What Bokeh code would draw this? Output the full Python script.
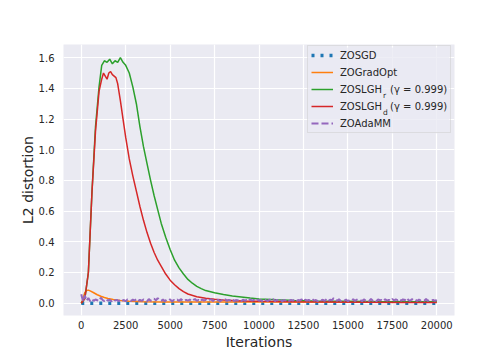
from bokeh.plotting import figure
from bokeh.models import (Range1d, FixedTicker, NumeralTickFormatter, Legend, LegendItem,
                          Label, BoxAnnotation)
from bokeh.embed import file_html
from bokeh.resources import INLINE

# ---------------- data ----------------
x_ticks = [0, 2500, 5000, 7500, 10000, 12500, 15000, 17500, 20000]
y_ticks = [0.0, 0.2, 0.4, 0.6, 0.8, 1.0, 1.2, 1.4, 1.6]

sgd_x = [0, 20000]
sgd_y = [0.0, 0.0]

gradopt_x = [0, 100, 200, 300, 400, 500, 700, 900, 1100, 1300, 1500, 1800, 2200,
             2700, 3500, 4500, 6000, 8000, 12000, 20000]
gradopt_y = [0.0, 0.03, 0.07, 0.082, 0.085, 0.08, 0.068, 0.055, 0.045, 0.037, 0.03,
             0.024, 0.018, 0.013, 0.010, 0.008, 0.007, 0.007, 0.007, 0.007]

slghr_x = [0, 200, 400, 600, 800, 1000, 1150, 1300, 1450, 1600, 1750, 1900, 2050,
           2200, 2350, 2500, 2700, 2900, 3100, 3300, 3500, 3700, 3900, 4100, 4300,
           4500, 4750, 5000, 5250, 5500, 5750, 6000, 6250, 6500, 6750, 7000, 7500,
           8000, 8500, 9000, 9500, 10000, 11000, 12000, 13000, 14000, 15000, 16000,
           17000, 18000, 19000, 20000]
slghr_y = [0.0, 0.03, 0.20, 0.72, 1.15, 1.41, 1.55, 1.58, 1.57, 1.59, 1.56, 1.58, 1.57,
           1.60, 1.57, 1.55, 1.50, 1.41, 1.30, 1.15, 1.02, 0.91, 0.80, 0.70, 0.61,
           0.52, 0.43, 0.35, 0.28, 0.23, 0.19, 0.155, 0.13, 0.11, 0.095, 0.082, 0.068,
           0.056, 0.047, 0.040, 0.033, 0.027, 0.022, 0.018, 0.015, 0.013, 0.012, 0.011,
           0.010, 0.010, 0.009, 0.009]

slghd_x = [0, 200, 400, 600, 800, 1000, 1150, 1250, 1350, 1450, 1550, 1650, 1750,
           1850, 1950, 2050, 2200, 2350, 2500, 2700, 2900, 3100, 3300, 3500, 3700,
           3900, 4100, 4300, 4500, 4750, 5000, 5250, 5500, 5750, 6000, 6500, 7000,
           7500, 8000, 9000, 10000, 12000, 14000, 16000, 18000, 20000]
slghd_y = [0.0, 0.03, 0.20, 0.72, 1.12, 1.38, 1.46, 1.50, 1.48, 1.46, 1.50, 1.51, 1.49,
           1.48, 1.47, 1.43, 1.32, 1.20, 1.08, 0.94, 0.83, 0.73, 0.63, 0.54, 0.46,
           0.39, 0.33, 0.28, 0.24, 0.19, 0.15, 0.12, 0.095, 0.075, 0.06, 0.042, 0.032,
           0.025, 0.02, 0.015, 0.012, 0.009, 0.007, 0.006, 0.005, 0.004]

adamm_x = list(range(0, 20001, 100))
adamm_y = [
    0.058, 0.010, 0.050, 0.016, 0.034, 0.013, 0.027, 0.015, 0.024, 0.019,
    0.014, 0.036, 0.021, 0.013, 0.025, 0.016, 0.023, 0.012, 0.026, 0.017,
    0.022, 0.013, 0.024, 0.016, 0.021, 0.012, 0.025, 0.018, 0.014, 0.023,
    0.017, 0.026, 0.013, 0.022, 0.015, 0.024, 0.019, 0.012, 0.027, 0.016,
    0.021, 0.030, 0.018, 0.033, 0.020, 0.015, 0.024, 0.013, 0.022, 0.017,
    0.025, 0.012, 0.021, 0.016, 0.023, 0.014, 0.026, 0.018, 0.013, 0.022,
    0.016, 0.024, 0.013, 0.021, 0.027, 0.015, 0.022, 0.012, 0.025, 0.017,
    0.023, 0.014, 0.020, 0.026, 0.013, 0.024, 0.016, 0.022, 0.012, 0.021,
    0.017, 0.025, 0.014, 0.022, 0.016, 0.027, 0.013, 0.021, 0.018, 0.024,
    0.012, 0.023, 0.016, 0.021, 0.014, 0.026, 0.017, 0.022, 0.013, 0.024,
    0.016, 0.021, 0.012, 0.025, 0.018, 0.014, 0.023, 0.016, 0.027, 0.013,
    0.022, 0.015, 0.024, 0.012, 0.021, 0.017, 0.026, 0.014, 0.022, 0.016,
    0.024, 0.013, 0.021, 0.018, 0.025, 0.012, 0.023, 0.016, 0.022, 0.014,
    0.026, 0.017, 0.021, 0.013, 0.024, 0.018, 0.022, 0.015, 0.027, 0.013,
    0.023, 0.019, 0.033, 0.021, 0.016, 0.025, 0.014, 0.022, 0.017, 0.024,
    0.012, 0.021, 0.016, 0.026, 0.014, 0.023, 0.018, 0.021, 0.013, 0.025,
    0.017, 0.022, 0.014, 0.028, 0.016, 0.023, 0.013, 0.024, 0.019, 0.021,
    0.014, 0.026, 0.017, 0.022, 0.015, 0.027, 0.018, 0.024, 0.020, 0.029,
    0.016, 0.025, 0.019, 0.034, 0.021, 0.015, 0.026, 0.018, 0.023, 0.014,
    0.024, 0.017, 0.022, 0.016, 0.027, 0.014, 0.023, 0.019, 0.021, 0.015,
    0.022]

names = ["ZOSGD", "ZOGradOpt", "ZOSLGH\u2002 (\u03b3 = 0.999)",
         "ZOSLGH\u2002 (\u03b3 = 0.999)", "ZOAdaMM"]
subscripts = ["r", "d"]

# ---------------- styling ----------------
FONT = "DejaVu Sans"
TXT = "#262626"
BG = "#EAEAF2"
C_BLUE, C_ORANGE, C_GREEN, C_RED, C_PURPLE = "#1f77b4", "#ff7f0e", "#2ca02c", "#d62728", "#9467bd"

p = figure(width=496, height=352,
           min_border_left=63, min_border_right=42, min_border_top=44, min_border_bottom=37,
           x_range=Range1d(-1000, 21000), y_range=Range1d(-0.0803, 1.686),
           output_backend="svg", toolbar_location=None)
p.background_fill_color = BG
p.border_fill_color = "white"
p.outline_line_color = None
p.grid.grid_line_color = "white"
p.grid.grid_line_width = 1.2

p.xaxis.ticker = FixedTicker(ticks=x_ticks)
p.yaxis.ticker = FixedTicker(ticks=y_ticks)
p.yaxis.formatter = NumeralTickFormatter(format="0.0")
p.xaxis.formatter = NumeralTickFormatter(format="0")
for ax in (p.xaxis, p.yaxis):
    ax.axis_line_color = None
    ax.major_tick_line_color = None
    ax.minor_tick_line_color = None
    ax.major_tick_out = 0
    ax.major_tick_in = 0
    ax.minor_tick_out = 0
    ax.minor_tick_in = 0
    ax.major_label_text_font = FONT
    ax.major_label_text_font_size = "10px"
    ax.major_label_text_color = TXT
    ax.axis_label_text_font = FONT
    ax.axis_label_text_font_size = "14px"
    ax.axis_label_text_font_style = "normal"
    ax.axis_label_text_color = TXT
p.xaxis.axis_label = "Iterations"
p.yaxis.axis_label = "L2 distortion"
p.xaxis.major_label_standoff = 5
p.yaxis.major_label_standoff = 9
p.xaxis.axis_label_standoff = 2
p.yaxis.axis_label_standoff = 0

# legend background drawn underneath everything else (screen units, frame-relative)
p.add_layout(BoxAnnotation(left=244, right=386, bottom=182, top=268,
                           left_units="screen", right_units="screen",
                           bottom_units="screen", top_units="screen",
                           fill_color=BG, fill_alpha=0.8, line_color=None,
                           level="underlay"))

r0 = p.line(sgd_x, sgd_y, color=C_BLUE, line_width=3.5, line_dash="3 6")
r1 = p.line(gradopt_x, gradopt_y, color=C_ORANGE, line_width=1.5)
r2 = p.line(slghr_x, slghr_y, color=C_GREEN, line_width=1.5)
r3 = p.line(slghd_x, slghd_y, color=C_RED, line_width=1.5)
r4 = p.line(adamm_x, adamm_y, color=C_PURPLE, line_width=2, line_dash="7 3")

legend = Legend(items=[LegendItem(label=n, renderers=[r]) for n, r in zip(names, [r0, r1, r2, r3, r4])],
                location=(244, 182), padding=3, spacing=5, glyph_width=22, glyph_height=12,
                label_height=12, label_standoff=7,
                label_text_font=FONT, label_text_font_size="10px", label_text_color=TXT,
                background_fill_alpha=0,
                border_line_color="#CCCCCC", border_line_width=1)
p.add_layout(legend)

# subscripts of the two ZOSLGH labels (screen units, relative to the plot frame)
for s, ypos in zip(subscripts, [220, 203.5]):
    p.add_layout(Label(x=319.5, y=ypos, x_units="screen", y_units="screen", text=s,
                       text_font=FONT, text_font_size="7.5px", text_color=TXT,
                       text_baseline="alphabetic", level="overlay"))

open("out.html", "w").write(file_html(p, INLINE))
